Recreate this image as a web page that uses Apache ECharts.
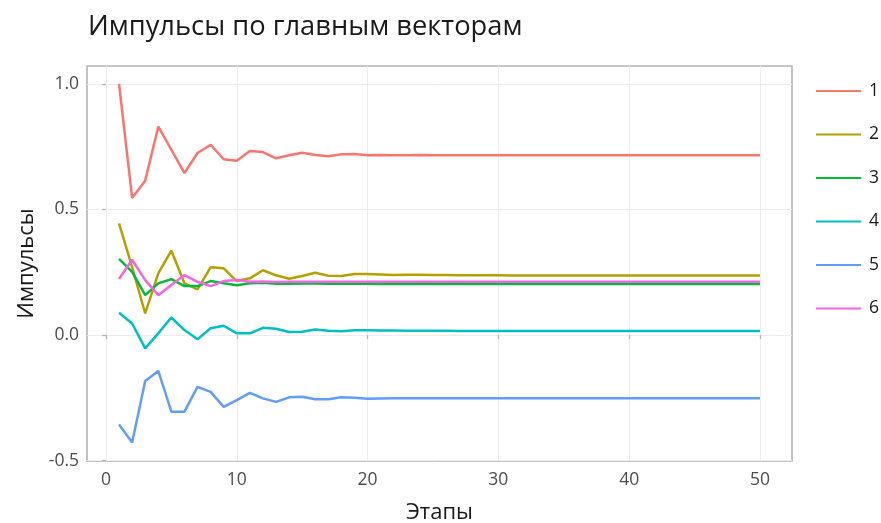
<!DOCTYPE html>
<html><head><meta charset="utf-8">
<script src="https://cdn.jsdelivr.net/npm/echarts@6/dist/echarts.min.js"></script>
<style>html,body{margin:0;padding:0;background:#fff}#c{width:881px;height:523px}</style>
</head><body><div id="c"></div>
<script>
const steps = [1,2,3,4,5,6,7,8,9,10,11,12,13,14,15,16,17,18,19,20,21,22,23,24,25,26,27,28,29,30,31,32,33,34,35,36,37,38,39,40,41,42,43,44,45,46,47,48,49,50];
const s1 = [1.0,0.546,0.615,0.83,0.738,0.645,0.725,0.758,0.70,0.694,0.733,0.729,0.704,0.716,0.726,0.717,0.712,0.72,0.721,0.716,0.717,0.716,0.716,0.717,0.716,0.716,0.716,0.716,0.716,0.716,0.716,0.716,0.716,0.716,0.716,0.716,0.716,0.716,0.716,0.716,0.716,0.716,0.716,0.716,0.716,0.716,0.716,0.716,0.716,0.716];
const s2 = [0.445,0.27,0.086,0.246,0.336,0.206,0.182,0.27,0.266,0.215,0.226,0.258,0.238,0.224,0.235,0.248,0.236,0.235,0.243,0.243,0.241,0.239,0.240,0.240,0.239,0.239,0.238,0.238,0.238,0.238,0.237,0.237,0.237,0.237,0.237,0.237,0.237,0.237,0.237,0.237,0.237,0.237,0.237,0.237,0.237,0.237,0.237,0.237,0.237,0.237];
const s3 = [0.303,0.252,0.159,0.206,0.223,0.195,0.195,0.215,0.206,0.198,0.206,0.208,0.204,0.204,0.205,0.205,0.204,0.204,0.204,0.204,0.203,0.203,0.203,0.203,0.203,0.203,0.203,0.203,0.203,0.203,0.203,0.203,0.203,0.203,0.203,0.203,0.203,0.203,0.203,0.203,0.203,0.203,0.203,0.203,0.203,0.203,0.203,0.203,0.203,0.203];
const s4 = [0.089,0.046,-0.053,0.007,0.07,0.02,-0.017,0.027,0.037,0.007,0.007,0.029,0.025,0.012,0.013,0.022,0.017,0.015,0.019,0.019,0.018,0.018,0.017,0.017,0.017,0.017,0.016,0.016,0.016,0.016,0.016,0.016,0.016,0.016,0.016,0.016,0.016,0.016,0.016,0.016,0.016,0.016,0.016,0.016,0.016,0.016,0.016,0.016,0.016,0.016];
const s5 = [-0.356,-0.428,-0.183,-0.143,-0.305,-0.305,-0.206,-0.226,-0.286,-0.259,-0.23,-0.252,-0.266,-0.248,-0.246,-0.256,-0.256,-0.248,-0.25,-0.254,-0.253,-0.252,-0.252,-0.252,-0.252,-0.252,-0.252,-0.252,-0.252,-0.252,-0.252,-0.252,-0.252,-0.252,-0.252,-0.252,-0.252,-0.252,-0.252,-0.252,-0.252,-0.252,-0.252,-0.252,-0.252,-0.252,-0.252,-0.252,-0.252,-0.252];
const s6 = [0.223,0.30,0.219,0.159,0.199,0.239,0.212,0.195,0.215,0.219,0.212,0.213,0.211,0.212,0.212,0.212,0.212,0.212,0.212,0.212,0.212,0.212,0.212,0.212,0.212,0.212,0.212,0.212,0.212,0.212,0.212,0.212,0.212,0.212,0.212,0.212,0.212,0.212,0.212,0.212,0.212,0.212,0.212,0.212,0.212,0.212,0.212,0.212,0.212,0.212];
const seriesNames = ['1','2','3','4','5','6'];
const seriesValues = [s1,s2,s3,s4,s5,s6];
const colors = ['#F8766D','#B79F00','#00BA38','#00BFC4','#619CFF','#F564E3'];
const xTicks = [0,10,20,30,40,50];
const yTicks = [-0.5,0,0.5,1.0];
const yTickLabels = ['-0.5','0.0','0.5','1.0'];
const titleText = 'Импульсы по главным векторам';
const xTitle = 'Этапы';
const yTitle = 'Импульсы';

const FONT = '"Open Sans", "DejaVu Sans", sans-serif';
const chart = echarts.init(document.getElementById('c'), null, {renderer:'canvas'});
const gridL = 87, gridT = 66, gridW = 705, gridH = 395;
const opt = {
  animation: false,
  textStyle: {fontFamily: FONT},
  title: {text: titleText, left: 83, top: 9, textStyle: {fontFamily: FONT, fontSize: 27.3, fontWeight: 'normal', color: '#1a1a1a'}},
  grid: {left: gridL, top: gridT, width: gridW, height: gridH, outerBoundsMode: 'none', containLabel: false,
         show: true, borderColor: '#b3b3b3', borderWidth: 1.6, backgroundColor: '#fff'},
  legend: {
    orient: 'vertical', left: 811, top: 77, itemGap: 25.5, itemWidth: 45, itemHeight: 18,
    icon: 'path://M0,8 L45,8 L45,10 L0,10 Z',
    textStyle: {fontFamily: FONT, fontSize: 17.5, color: '#1a1a1a', padding: [0,0,0,3]},
    data: seriesNames
  },
  xAxis: {
    type: 'value', min: -1.45, max: 52.45,
    name: xTitle, nameLocation: 'middle', nameGap: 41,
    nameTextStyle: {fontFamily: FONT, fontSize: 22, color: '#1a1a1a'},
    axisLine: {show: false},
    axisTick: {show: true, length: 4, customValues: xTicks, lineStyle: {color: '#b3b3b3', width: 1.3}},
    axisLabel: {customValues: xTicks, fontFamily: FONT, fontSize: 17.5, color: '#4d4d4d', margin: 10},
    splitLine: {show: true, lineStyle: {color: '#ededed', width: 1}}
  },
  yAxis: {
    type: 'value', min: -0.5015, max: 1.0715,
    name: yTitle, nameLocation: 'middle', nameGap: 45, nameRotate: 90,
    nameTextStyle: {fontFamily: FONT, fontSize: 22, color: '#1a1a1a'},
    axisLine: {show: false},
    axisTick: {show: true, length: 4, customValues: yTicks, lineStyle: {color: '#b3b3b3', width: 1.3}},
    axisLabel: {customValues: yTicks, fontFamily: FONT, fontSize: 17.5, color: '#4d4d4d', margin: 8,
      formatter: v => { const i = yTicks.findIndex(t => Math.abs(t - v) < 1e-9); return i >= 0 ? yTickLabels[i] : ''; }},
    splitLine: {show: true, lineStyle: {color: '#ededed', width: 1}}
  },
  series: seriesNames.map((n, i) => ({
    name: n, type: 'line', showSymbol: false, symbol: 'none',
    data: steps.map((x, j) => [x, seriesValues[i][j]]),
    lineStyle: {color: colors[i], width: 2.5},
    itemStyle: {color: colors[i]},
    z: 2 + i
  }))
};
chart.setOption(opt);
</script></body></html>
